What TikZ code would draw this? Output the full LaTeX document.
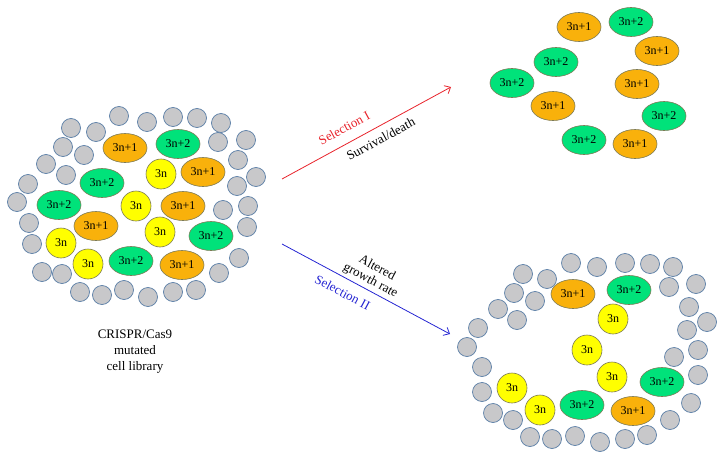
\documentclass[tikz,border=0pt]{standalone}
\usepackage{fontspec}
\setmainfont{Liberation Serif}
\definecolor{cellgrey}{HTML}{C8C8CA}
\definecolor{cellrim}{HTML}{5A7EA6}
\definecolor{orangefill}{HTML}{F9B10B}
\definecolor{greenfill}{HTML}{00E27A}
\definecolor{yellowfill}{HTML}{FFFF00}
\definecolor{shaperim}{HTML}{7C7A55}
\definecolor{selred}{HTML}{E8232B}
\definecolor{selblue}{HTML}{2424D2}
\usetikzlibrary{shapes.geometric,arrows.meta}

\begin{document}
\begin{tikzpicture}[
    x=1pt, y=-1pt,
    every node/.style={font=\fontsize{12}{14}\selectfont},
    cell/.style={circle, draw=cellrim, fill=cellgrey, line width=0.7pt, minimum size=19pt, inner sep=0pt},
    plusone/.style={ellipse, draw=shaperim, fill=orangefill, line width=0.6pt, minimum width=44pt, minimum height=29pt, inner sep=0pt},
    plustwo/.style={plusone, fill=greenfill},
    triple/.style={circle, draw=shaperim, fill=yellowfill, line width=0.6pt, minimum size=30pt, inner sep=0pt},
    label/.style={font=\fontsize{13}{15}\selectfont, align=center, inner sep=1pt},
    arrow/.style={-{Straight Barb[length=5pt, width=9pt]}, line width=0.8pt}
    ]
    \useasboundingbox (0,0) rectangle (725,460);

    % library before selection
    \foreach \x/\y [count=\i] in {119/116, 147/122, 173/117, 197/118, 221/123, 71/128, 96/132,
        63/147, 84/155, 218/142, 246/140, 46/164, 238/160, 66/175, 256/177, 28/184, 237/186,
        17/202, 248/206, 223/210, 29/223, 247/227, 32/244, 239/258, 42/272, 62/274, 219/273,
        80/292, 102/295, 124/290, 148/297, 173/292, 196/290}
      \node[cell] (lc\i) at (\x,\y) {};
    \foreach \x/\y/\s/\t [count=\i] in {125/148/plusone/3n+1, 178/144/plustwo/3n+2,
        161/174/triple/3n, 203/172/plusone/3n+1, 102/183/plustwo/3n+2, 59/205/plustwo/3n+2,
        136/206/triple/3n, 183/206/plusone/3n+1, 96/226/plusone/3n+1, 160/232/triple/3n,
        211/236/plustwo/3n+2, 61/243/triple/3n, 88/264/triple/3n, 131/261/plustwo/3n+2,
        182/265/plusone/3n+1}
      \node[\s] (lk\i) at (\x,\y) {\t};
    \node[label, font=\fontsize{13}{16}\selectfont] (lib) at (135,352) {CRISPR/Cas9\\mutated\\cell library};

    % after selection I
    \foreach \x/\y/\s/\t [count=\i] in {579/27/plusone/3n+1, 631/22/plustwo/3n+2,
        657/51/plusone/3n+1, 556/62/plustwo/3n+2, 512/83/plustwo/3n+2, 637/84/plusone/3n+1,
        553/106/plusone/3n+1, 664/116/plustwo/3n+2, 584/140/plustwo/3n+2, 635/144/plusone/3n+1}
      \node[\s] (tk\i) at (\x,\y) {\t};

    % after selection II
    \foreach \x/\y [count=\i] in {571/263, 597/267, 625/263, 650/264, 673/267, 523/274, 547/279,
        696/284, 514/293, 669/287, 535/301, 498/309, 689/307, 707/322, 517/320, 478/328,
        687/330, 467/347, 698/350, 674/357, 482/367, 698/375, 482/392, 691/403, 493/413,
        513/420, 670/420, 530/437, 552/439, 575/436, 600/442, 625/439, 647/435}
      \node[cell] (bc\i) at (\x,\y) {};
    \foreach \x/\y/\s/\t [count=\i] in {573/294/plusone/3n+1, 629/290/plustwo/3n+2,
        613/319/triple/3n, 587/350/triple/3n, 612/377/triple/3n, 662/382/plustwo/3n+2,
        512/388/triple/3n, 540/410/triple/3n, 582/405/plustwo/3n+2, 633/411/plusone/3n+1}
      \node[\s] (bk\i) at (\x,\y) {\t};

    % selection arrows
    \coordinate (s1a) at (282,179);
    \coordinate (s1b) at (451,87);
    \coordinate (s2a) at (282,244);
    \coordinate (s2b) at (450,334);
    \draw[arrow, selred] (s1a) -- node[label, sloped, above=9pt, pos=0.41, text=selred] (sel1) {Selection I}
        node[label, sloped, below=6pt, pos=0.55, text=black] (surv) {Survival/death} (s1b);
    \draw[arrow, selblue] (s2a) -- node[label, sloped, above=2pt, pos=0.5, text=black, font=\fontsize{13}{14}\selectfont] (grow) {Altered\\growth rate}
        node[label, sloped, below=8pt, pos=0.4, text=selblue] (sel2) {Selection II} (s2b);
\end{tikzpicture}
\end{document}
